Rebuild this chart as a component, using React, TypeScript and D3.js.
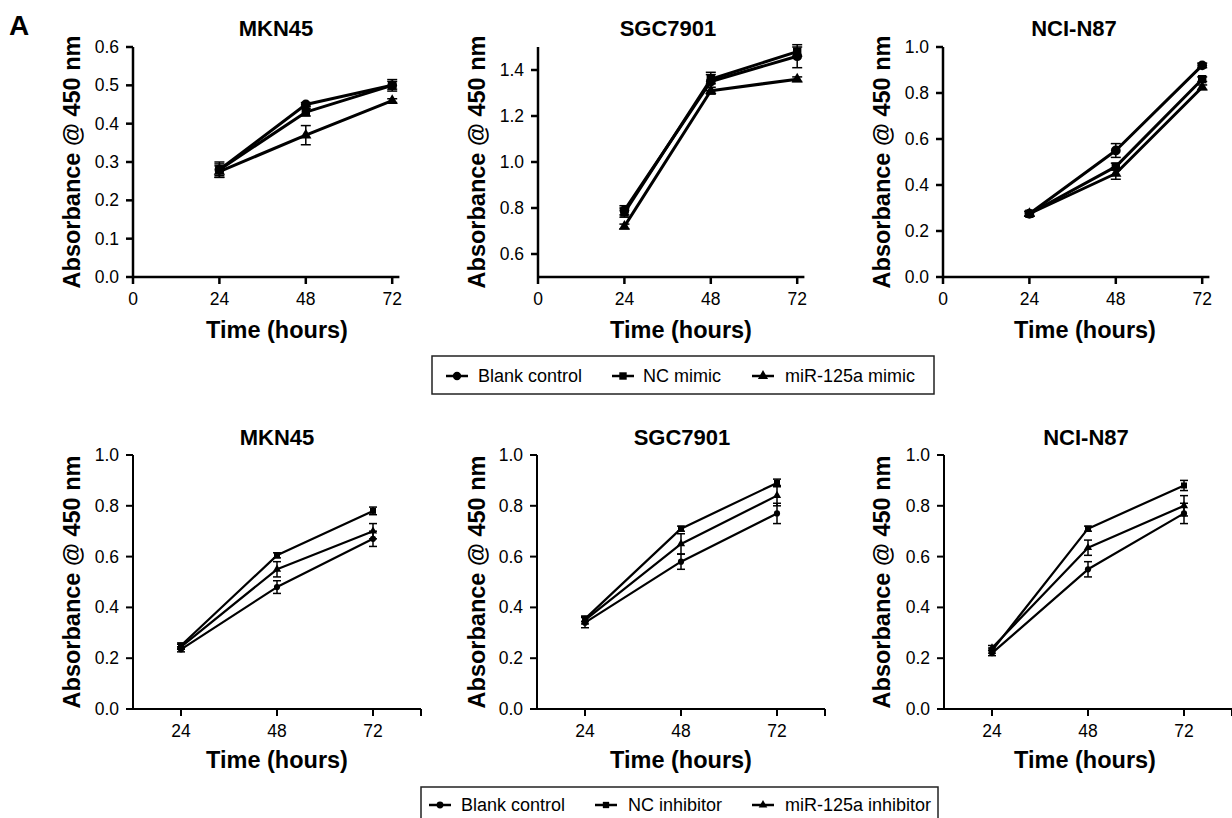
import React from "react";
import * as d3 from "d3";

// ---------- data ----------
const hours = [24, 48, 72];
const cellLines = ["MKN45", "SGC7901", "NCI-N87"];
const mimicSeries = ["Blank control", "NC mimic", "miR-125a mimic"];
const inhibitorSeries = ["Blank control", "NC inhibitor", "miR-125a inhibitor"];

// mimic experiment: [blank, NC, miR-125a] × [24h, 48h, 72h]
const mimicMKN45 = [[0.28, 0.45, 0.5], [0.28, 0.43, 0.5], [0.275, 0.37, 0.46]];
const mimicMKN45Err = [[0.015, 0.005, 0.01], [0.02, 0.01, 0.015], [0.015, 0.025, 0.005]];
const mimicSGC7901 = [[0.79, 1.35, 1.46], [0.78, 1.36, 1.48], [0.72, 1.31, 1.36]];
const mimicSGC7901Err = [[0.02, 0.04, 0.05], [0.02, 0.02, 0.02], [0.01, 0.015, 0.01]];
const mimicNCIN87 = [[0.275, 0.55, 0.92], [0.275, 0.48, 0.86], [0.275, 0.45, 0.825]];
const mimicNCIN87Err = [[0.01, 0.03, 0.01], [0.01, 0.015, 0.01], [0.01, 0.025, 0.01]];

// inhibitor experiment
const inhibMKN45 = [[0.235, 0.48, 0.67], [0.25, 0.605, 0.78], [0.245, 0.55, 0.7]];
const inhibMKN45Err = [[0.01, 0.025, 0.03], [0.01, 0.01, 0.015], [0.01, 0.03, 0.03]];
const inhibSGC7901 = [[0.34, 0.58, 0.77], [0.355, 0.71, 0.89], [0.35, 0.65, 0.84]];
const inhibSGC7901Err = [[0.02, 0.03, 0.04], [0.01, 0.01, 0.015], [0.015, 0.04, 0.04]];
const inhibNCIN87 = [[0.22, 0.55, 0.77], [0.23, 0.71, 0.88], [0.24, 0.635, 0.8]];
const inhibNCIN87Err = [[0.01, 0.03, 0.04], [0.01, 0.01, 0.02], [0.01, 0.03, 0.04]];

// axis tick values
const topXTicks = [0, 24, 48, 72];
const bottomXTicks = [24, 48, 72];
const mkn45MimicYTicks = [0, 0.1, 0.2, 0.3, 0.4, 0.5, 0.6];
const sgcMimicYTicks = [0.6, 0.8, 1.0, 1.2, 1.4];
const unitYTicks = [0, 0.2, 0.4, 0.6, 0.8, 1.0];

// ---------- layout ----------
const FONT = "'Liberation Sans', Arial, Helvetica, sans-serif";
const symbols = [d3.symbolCircle, d3.symbolSquare, d3.symbolTriangle];

type PanelProps = {
  title: string;
  axisX: number;
  yTop: number;
  yBot: number;
  xDomain: [number, number];
  xWidth: number;
  xTicks: number[];
  endTick: number | null;
  yDomain: [number, number];
  yTicks: number[];
  values: number[][];
  errs: number[][];
  titleX: number;
  titleY: number;
  xLabelX: number;
  xLabelY: number;
  tickLabelY: number;
  yLabelX: number;
  axisW: number;
  lineW: number;
  symSizes: number[];
  cap: number;
  xAxisLeftExtend: number;
};

function Panel(p: PanelProps) {
  const x = d3.scaleLinear().domain(p.xDomain).range([p.axisX, p.axisX + p.xWidth]);
  const y = d3.scaleLinear().domain(p.yDomain).range([p.yBot, p.yTop]);
  const line = d3
    .line<number>()
    .x((_, i) => x(hours[i]))
    .y((v) => y(v));
  const tickLen = 7;
  return (
    <g>
      <text x={p.titleX} y={p.titleY} textAnchor="middle" fontWeight="bold" fontSize={22} fontFamily={FONT}>
        {p.title}
      </text>
      {/* y axis */}
      <line x1={p.axisX} x2={p.axisX} y1={p.yTop} y2={p.yBot} stroke="#000" strokeWidth={p.axisW} />
      {p.yTicks.map((t) => (
        <g key={"y" + t}>
          <line x1={p.axisX - tickLen} x2={p.axisX} y1={y(t)} y2={y(t)} stroke="#000" strokeWidth={p.axisW} />
          <text
            x={p.axisX - tickLen - 7}
            y={y(t)}
            textAnchor="end"
            dominantBaseline="central"
            fontSize={17.5}
            fontFamily={FONT}
          >
            {t.toFixed(1)}
          </text>
        </g>
      ))}
      {/* x axis */}
      <line
        x1={p.axisX - p.xAxisLeftExtend}
        x2={p.axisX + p.xWidth}
        y1={p.yBot}
        y2={p.yBot}
        stroke="#000"
        strokeWidth={p.axisW}
      />
      {p.xTicks.map((t) => (
        <g key={"x" + t}>
          <line x1={x(t)} x2={x(t)} y1={p.yBot} y2={p.yBot + tickLen} stroke="#000" strokeWidth={p.axisW} />
          <text x={x(t)} y={p.tickLabelY} textAnchor="middle" dominantBaseline="central" fontSize={17.5} fontFamily={FONT}>
            {t}
          </text>
        </g>
      ))}
      {p.endTick !== null && (
        <line
          x1={x(p.endTick)}
          x2={x(p.endTick)}
          y1={p.yBot}
          y2={p.yBot + tickLen}
          stroke="#000"
          strokeWidth={p.axisW}
        />
      )}
      <text x={p.xLabelX} y={p.xLabelY} textAnchor="middle" dominantBaseline="central" fontWeight="bold" fontSize={23.5} fontFamily={FONT}>
        Time (hours)
      </text>
      <text
        transform={`translate(${p.yLabelX},${(p.yTop + p.yBot) / 2}) rotate(-90)`}
        textAnchor="middle"
        dominantBaseline="central"
        fontWeight="bold"
        fontSize={23.5}
        fontFamily={FONT}
      >
        Absorbance @ 450 nm
      </text>
      {/* series */}
      {p.values.map((vals, si) => (
        <g key={"s" + si}>
          <path d={line(vals) || ""} fill="none" stroke="#000" strokeWidth={p.lineW} strokeLinejoin="round" />
          {vals.map((v, i) => {
            const e = p.errs[si][i];
            const cx = x(hours[i]);
            return (
              <g key={i}>
                <line x1={cx} x2={cx} y1={y(v - e)} y2={y(v + e)} stroke="#000" strokeWidth={1.5} />
                <line x1={cx - p.cap} x2={cx + p.cap} y1={y(v - e)} y2={y(v - e)} stroke="#000" strokeWidth={1.5} />
                <line x1={cx - p.cap} x2={cx + p.cap} y1={y(v + e)} y2={y(v + e)} stroke="#000" strokeWidth={1.5} />
                <path
                  d={d3.symbol().type(symbols[si]).size(p.symSizes[si])() || ""}
                  transform={`translate(${cx},${y(v)})`}
                  fill="#000"
                />
              </g>
            );
          })}
        </g>
      ))}
    </g>
  );
}

function Legend(props: {
  names: string[];
  box: [number, number, number, number];
  markerX: number[];
  textX: number[];
  cy: number;
  sizes: number[];
}) {
  const [bx, by, bw, bh] = props.box;
  return (
    <g>
      <rect x={bx} y={by} width={bw} height={bh} fill="none" stroke="#222" strokeWidth={1.5} />
      {props.names.map((n, i) => (
        <g key={n}>
          <line x1={props.markerX[i]} x2={props.markerX[i] + 22} y1={props.cy} y2={props.cy} stroke="#000" strokeWidth={2.5} />
          <path
            d={d3.symbol().type(symbols[i]).size(props.sizes[i])() || ""}
            transform={`translate(${props.markerX[i] + 11},${props.cy})`}
            fill="#000"
          />
          <text x={props.textX[i]} y={props.cy} dominantBaseline="central" fontSize={18} fontFamily={FONT}>
            {n}
          </text>
        </g>
      ))}
    </g>
  );
}

export default function App() {
  const topAxisX = [133, 538, 943];
  const botAxisX = [133, 537, 944];
  const topValues = [mimicMKN45, mimicSGC7901, mimicNCIN87];
  const topErrs = [mimicMKN45Err, mimicSGC7901Err, mimicNCIN87Err];
  const botValues = [inhibMKN45, inhibSGC7901, inhibNCIN87];
  const botErrs = [inhibMKN45Err, inhibSGC7901Err, inhibNCIN87Err];
  const topYDomains: [number, number][] = [[0, 0.6], [0.5, 1.5], [0, 1]];
  const topYTicks = [mkn45MimicYTicks, sgcMimicYTicks, unitYTicks];
  const topTitleX = [276, 668, 1074];
  const botTitleX = [277, 682, 1086];
  const xLabelX = [277, 681, 1085];
  const yLabelX = [72, 477, 882];

  return (
    <svg
      width={1232}
      height={818}
      viewBox="0 0 1232 818"
      style={{ position: "absolute", left: 0, top: 0, background: "#fff" }}
    >
      <rect x={0} y={0} width={1232} height={818} fill="#fff" />
      <text x={9} y={35} fontWeight="bold" fontSize={28} fontFamily={FONT}>
        A
      </text>
      {cellLines.map((c, i) => (
        <Panel
          key={"top" + c}
          title={c}
          axisX={topAxisX[i]}
          yTop={47}
          yBot={277}
          xDomain={[0, 74]}
          xWidth={266.4}
          xTicks={topXTicks}
          endTick={null}
          yDomain={topYDomains[i]}
          yTicks={topYTicks[i]}
          values={topValues[i]}
          errs={topErrs[i]}
          titleX={topTitleX[i]}
          titleY={36}
          xLabelX={xLabelX[i]}
          xLabelY={330}
          tickLabelY={299}
          yLabelX={yLabelX[i]}
          axisW={2.5}
          lineW={3}
          symSizes={[75, 70, 55]}
          cap={5}
          xAxisLeftExtend={0}
        />
      ))}
      {cellLines.map((c, i) => (
        <Panel
          key={"bot" + c}
          title={c}
          axisX={botAxisX[i]}
          yTop={455}
          yBot={709}
          xDomain={[12, 84]}
          xWidth={288}
          xTicks={bottomXTicks}
          endTick={84}
          yDomain={[0, 1]}
          yTicks={unitYTicks}
          values={botValues[i]}
          errs={botErrs[i]}
          titleX={botTitleX[i]}
          titleY={445}
          xLabelX={xLabelX[i]}
          xLabelY={760}
          tickLabelY={731}
          yLabelX={yLabelX[i]}
          axisW={2}
          lineW={2.2}
          symSizes={[30, 36, 30]}
          cap={4}
          xAxisLeftExtend={5}
        />
      ))}
      <Legend
        names={mimicSeries}
        box={[432, 356, 502, 38]}
        markerX={[446, 612, 752]}
        textX={[478, 643, 785]}
        cy={376}
        sizes={[55, 55, 45]}
      />
      <Legend
        names={inhibitorSeries}
        box={[421, 787, 517, 40]}
        markerX={[429, 595, 752]}
        textX={[461, 628, 785]}
        cy={805}
        sizes={[36, 40, 32]}
      />
    </svg>
  );
}
